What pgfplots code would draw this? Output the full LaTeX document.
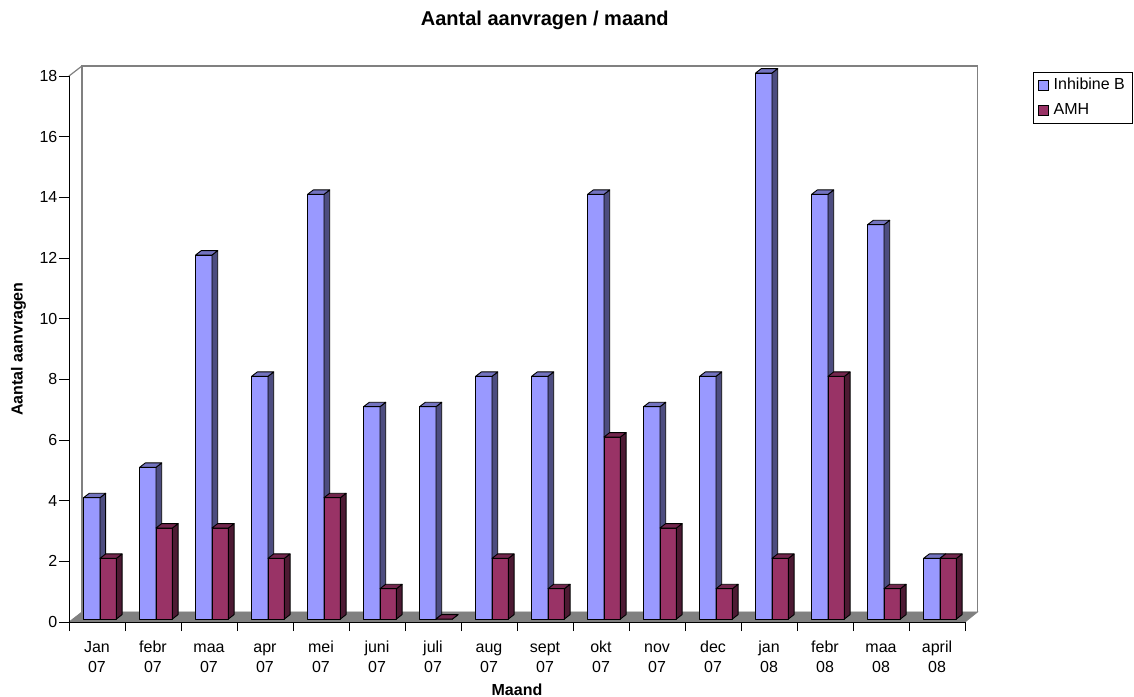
\documentclass[border=0pt]{standalone}
\usepackage{fontspec}
\setmainfont{Liberation Sans}
\usepackage{pgfplots}
\usepackage{pgfplotstable}
\pgfplotsset{compat=1.18}

\definecolor{ibfront}{HTML}{9999FF}
\definecolor{ibside}{HTML}{4D4D80}
\definecolor{ibtop}{HTML}{7373BF}
\definecolor{amhfront}{HTML}{993366}
\definecolor{amhside}{HTML}{4D1A33}
\definecolor{amhtop}{HTML}{73264D}
\definecolor{floorgray}{HTML}{808080}

\pgfdeclareplotmark{nomark}{}

% requests per month: Inhibine B and AMH
\pgfplotstableread{
m   ib  amh
0   4   2
1   5   3
2   12  3
3   8   2
4   14  4
5   7   1
6   7   0
7   8   2
8   8   1
9   14  6
10  7   3
11  8   1
12  18  2
13  14  8
14  13  1
15  2   2
}\requests

% two-line month label
\newcommand\mlab[2]{\strut #1\\#2}

% a 3-D column drawn from its data point (category, value):
% #1 left edge of front face, #2 right edge, #3 front, #4 side, #5 top colour
\pgfplotsset{
  column3d/.style n args={5}{
    scatter, only marks, mark=nomark, forget plot,
    point meta=y,
    visualization depends on={rawy \as \colh},
    scatter/@pre marker code/.code={%
      \path[fill=#3, draw=black, line width=0.9bp, line join=round]
        (#1,3bp) -- (#2,3bp) -- ++(axis direction cs:0,-\colh)
        -- ++(#1-#2,0bp) -- cycle;
      \path[fill=#4, draw=black, line width=0.9bp, line join=round]
        (#2,3bp) -- (#2+5.7bp,7.4bp) -- ++(axis direction cs:0,-\colh)
        -- ++(-5.7bp,-4.4bp) -- cycle;
      \path[fill=#5, draw=black, line width=0.9bp, line join=round]
        (#1,3bp) -- (#1+5.7bp,7.4bp) -- (#2+5.7bp,7.4bp) -- (#2,3bp) -- cycle;
    },
    scatter/@post marker code/.code={},
  },
}

\begin{document}
\begin{tikzpicture}
\begin{axis}[
  x=56bp, y=30.333bp,
  xmin=-0.5, xmax=15.5, ymin=0, ymax=18,
  clip=false, axis on top,
  axis x line*=bottom, axis y line*=left,
  axis line style={black, line width=0.9bp},
  tick align=outside,
  major tick length=10bp, minor tick length=9bp,
  every tick/.style={black, line width=0.9bp},
  ytick={0,2,...,18},
  xtick={0,...,15},
  minor xtick={-0.5,0.5,...,15.5},
  major x tick style={draw=none},
  xticklabels={{\mlab{Jan}{07}},{\mlab{febr}{07}},{\mlab{maa}{07}},
    {\mlab{apr}{07}},{\mlab{mei}{07}},{\mlab{juni}{07}},{\mlab{juli}{07}},
    {\mlab{aug}{07}},{\mlab{sept}{07}},{\mlab{okt}{07}},{\mlab{nov}{07}},
    {\mlab{dec}{07}},{\mlab{jan}{08}},{\mlab{febr}{08}},{\mlab{maa}{08}},
    {\mlab{april}{08}}},
  tick label style={font=\fontsize{16bp}{20bp}\selectfont},
  xticklabel style={align=center, inner ysep=6bp},
  yticklabel style={inner xsep=1.5bp},
  /pgf/number format/assume math mode=true,
  xlabel={Maand},
  xlabel style={at={(rel axis cs:0.5,-0.1337)}, anchor=base,
    font=\bfseries\fontsize{16bp}{20bp}\selectfont},
  legend style={at={(rel axis cs:1.0759,1.0073)}, anchor=north west,
    draw=black, line width=0.8bp, inner xsep=5bp, inner ysep=4.5bp,
    row sep=8.5bp, column sep=2bp,
    font=\fontsize{16bp}{19bp}\selectfont,
    nodes={inner xsep=2.5bp, inner ysep=1bp, text height=11.5bp, text depth=3bp}},
  legend cell align=left,
]
% floor
\addplot[fill=floorgray, draw=floorgray, line width=0.8bp, forget plot]
  coordinates {(-0.5,0) (15.5,0) (15.723,0.33) (-0.268,0.33) (-0.5,0)};
% back wall
\addplot[draw=floorgray, line width=1.2bp, forget plot]
  coordinates {(-0.268,0.33) (-0.268,18.33) (15.723,18.33) (15.723,0.33)};
\addplot[draw=floorgray, line width=1.2bp, forget plot]
  coordinates {(-0.5,18) (-0.268,18.33)};

\addlegendimage{legend image code/.code={%
  \draw[fill=ibfront, draw=black, line width=0.8bp] (0bp,-5bp) rectangle (10bp,5bp);}}
\addlegendentry{Inhibine B}
\addlegendimage{legend image code/.code={%
  \draw[fill=amhfront, draw=black, line width=0.8bp] (0bp,-5bp) rectangle (10bp,5bp);}}
\addlegendentry{AMH}

\addplot[column3d={-13.4bp}{3bp}{ibfront}{ibside}{ibtop}]
  table[x=m, y=ib] {\requests};
\addplot[column3d={3bp}{19.4bp}{amhfront}{amhside}{amhtop}]
  table[x=m, y=amh] {\requests};

\node[rotate=90, anchor=base, font=\bfseries\fontsize{16bp}{20bp}\selectfont]
  at (rel axis cs:-0.0519,0.5) {Aantal aanvragen};
\node[anchor=base, font=\bfseries\fontsize{20bp}{24bp}\selectfont]
  at (rel axis cs:0.531,1.0934) {Aantal aanvragen / maand};
\coordinate (o) at (rel axis cs:0,0);
\end{axis}
\pgfresetboundingbox
\path ([shift={(-69bp,-75bp)}]o) rectangle ([shift={(1065bp,622bp)}]o);
\end{tikzpicture}
\end{document}
